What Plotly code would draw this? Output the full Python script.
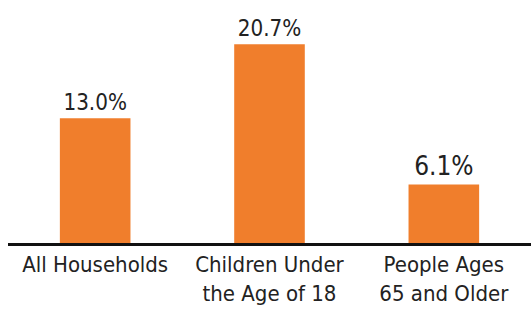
import plotly.graph_objects as go

categories = ["All Households", "Children Under<br>the Age of 18", "People Ages<br>65 and Older"]
values = [13.0, 20.7, 6.1]
value_labels = ["13.0%", "20.7%", "6.1%"]

FONT = "DejaVu Sans, sans-serif"

fig = go.Figure(
    go.Bar(
        x=categories,
        y=values,
        text=value_labels,
        textposition="outside",
        textfont=dict(family=FONT, size=26, color="#222222"),
        marker=dict(color="#F07E2C", line=dict(width=0)),
        width=0.405,
        cliponaxis=False,
        hoverinfo="skip",
    )
)

fig.update_layout(
    width=531,
    height=310,
    margin=dict(l=8, r=0, t=0, b=67),
    paper_bgcolor="white",
    plot_bgcolor="white",
    showlegend=False,
    xaxis=dict(
        range=[-0.5, 2.5],
        automargin=False,
        showline=True,
        linecolor="#111111",
        linewidth=2.5,
        showgrid=False,
        ticks="",
        ticklabelstandoff=0,
        tickfont=dict(family=FONT, size=22, color="#222222"),
        fixedrange=True,
    ),
    yaxis=dict(
        range=[0, 25.3],
        visible=False,
        showgrid=False,
        zeroline=False,
        fixedrange=True,
        automargin=False,
    ),
)

post = (
    "document.body.style.margin='0';"
    "var s=document.createElement('style');"
    "s.textContent='.main-svg text{font-stretch:condensed !important;}';"
    "document.head.appendChild(s);"
)

fig.write_html("out.html", config={"displayModeBar": False}, post_script=post)
